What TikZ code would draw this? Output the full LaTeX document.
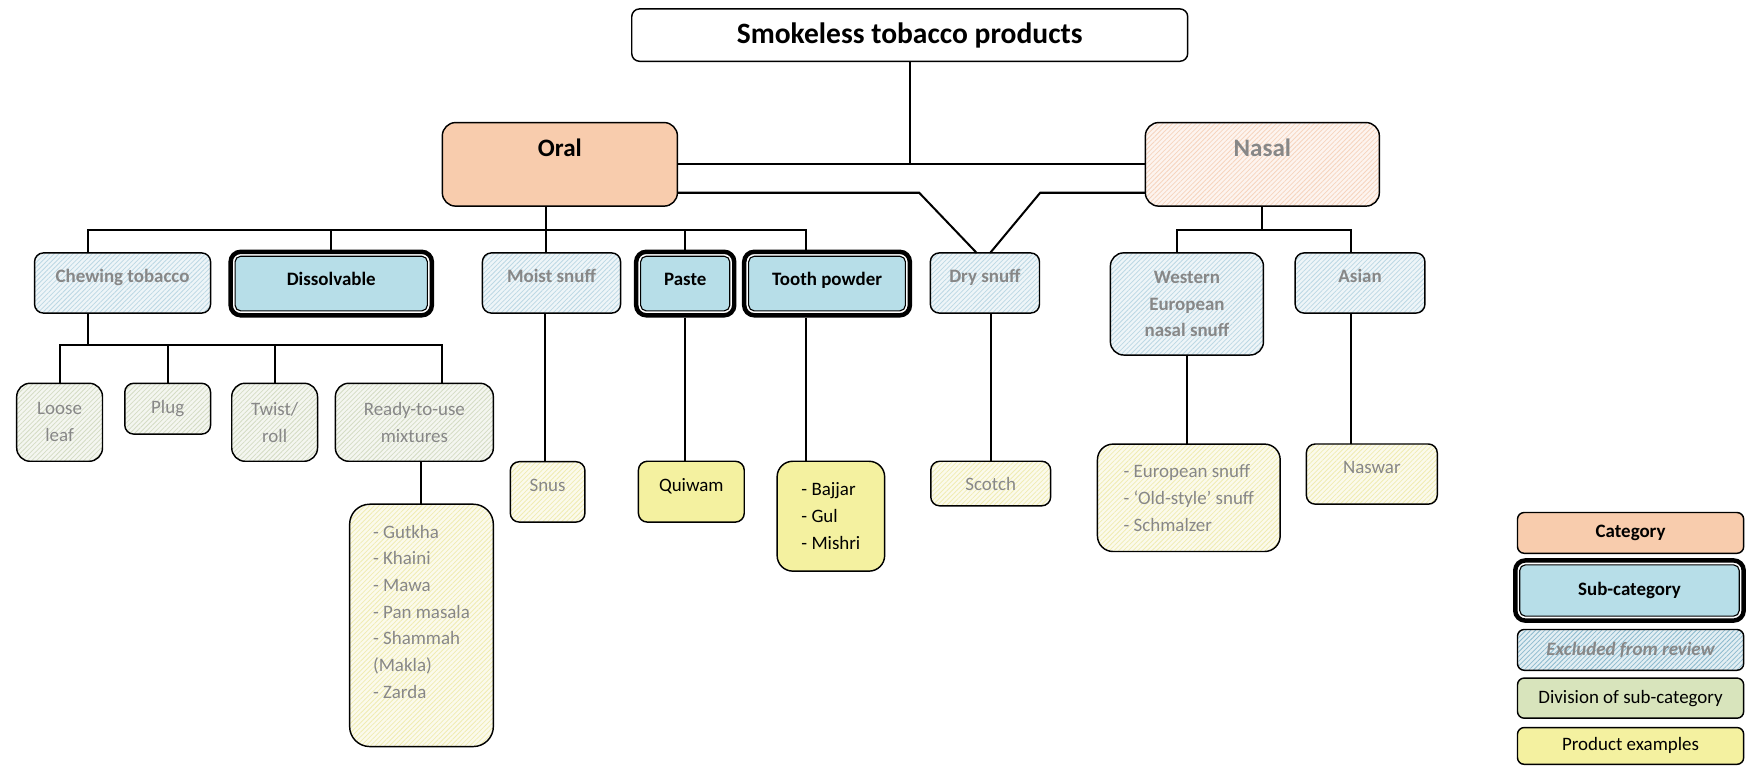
\documentclass[tikz,border=0pt]{standalone}
\usepackage{fontspec}
\setmainfont{Carlito}
\usetikzlibrary{patterns.meta}
\definecolor{catfill}{RGB}{248,204,173}
\definecolor{subfill}{RGB}{183,222,232}
\definecolor{divfill}{RGB}{216,228,188}
\definecolor{prodfill}{RGB}{244,241,160}
\definecolor{exgray}{RGB}{135,135,135}
\definecolor{hatchblue}{RGB}{188,216,228}
\definecolor{hatchlegend}{RGB}{140,186,206}
\definecolor{hatchpeach}{RGB}{246,212,190}
\definecolor{hatchgreen}{RGB}{212,220,196}
\definecolor{hatchyellow}{RGB}{240,236,178}
\tikzset{
  box/.style={draw=black, line width=1.3pt, rounded corners=8pt, align=center, inner sep=3pt,
    font=\fontsize{17}{24}\selectfont},
  bbox/.style={box, font=\fontsize{17}{24}\selectfont\bfseries},
  catbox/.style={box, fill=catfill, rounded corners=12pt, font=\fontsize{22.5}{27}\selectfont\bfseries},
  subbox/.style={bbox, fill=subfill, line width=1pt, rounded corners=5pt, outer sep=6pt},
  subframe/.style={line width=4pt, rounded corners=9pt},
  hatched/.style={text=exgray, preaction={fill=#1!25}, pattern={Lines[angle=45,distance=3pt,line width=0.7pt]}, pattern color=#1},
  exbox/.style={bbox, hatched=#1},
  divbox/.style={box, hatched=hatchgreen},
  exprod/.style={box, hatched=hatchyellow},
  prod/.style={box, fill=prodfill},
  lifted/.style={text height=12pt, text depth=#1},
  link/.style={line width=1.8pt}
}
\begin{document}
\begin{tikzpicture}[x=1pt, y=-1pt, outer sep=0pt]
\useasboundingbox (0,0) rectangle (1568,688);
\node[box, minimum width=499pt, minimum height=47pt, rounded corners=7pt, font=\fontsize{26.5}{30}\selectfont\bfseries] (title) at (816.5,31.5) {Smokeless tobacco products};
\node[catbox, minimum width=211pt, minimum height=75pt, text depth=29pt] (oral) at (502.5,147.5) {Oral};
\node[exbox=hatchpeach, rounded corners=12pt, font=\fontsize{22.5}{27}\selectfont\bfseries, minimum width=210pt, minimum height=75pt, text depth=29pt] (nasal) at (1133,147.5) {Nasal};

\node[exbox=hatchblue, minimum width=158pt, minimum height=54pt, lifted=13pt] (chew) at (110,254) {Chewing tobacco};
\node[subbox, minimum width=172.6pt, minimum height=49pt, lifted=9pt] (dissolve) at (297.3,254.5) {Dissolvable};
\node[exbox=hatchblue, minimum width=124pt, minimum height=54pt, lifted=13pt] (moist) at (495,254) {Moist snuff};
\node[subbox, minimum width=80pt, minimum height=49pt, lifted=9pt] (paste) at (615,254.5) {Paste};
\node[subbox, minimum width=140.7pt, minimum height=49pt, lifted=9pt] (tooth) at (742.3,254.5) {Tooth powder};
\node[exbox=hatchblue, minimum width=98pt, minimum height=54pt, lifted=13pt] (dry) at (884,254) {Dry snuff};
\node[exbox=hatchblue, minimum width=137.4pt, minimum height=91.7pt, rounded corners=12pt] (west) at (1065.3,272.8) {Western\\European\\nasal snuff};
\node[exbox=hatchblue, minimum width=116.5pt, minimum height=54pt, lifted=13pt] (asian) at (1220.7,254) {Asian};

\node[divbox, minimum width=77pt, minimum height=70pt, rounded corners=12pt] (loose) at (53.5,379) {Loose\\leaf};
\node[divbox, minimum width=77pt, minimum height=45.6pt] (plug) at (150.5,366.8) {Plug};
\node[divbox, minimum width=77pt, minimum height=70pt, rounded corners=12pt] (twist) at (246.5,379) {Twist/\\roll};
\node[divbox, minimum width=141.8pt, minimum height=70pt, rounded corners=12pt] (ready) at (371.9,379) {Ready-to-use\\mixtures};

\node[exprod, align=left, minimum width=129pt, minimum height=217.5pt, rounded corners=18pt, text depth=24.6pt] (mix) at (378.3,561.3) {- Gutkha\\- Khaini\\- Mawa\\- Pan masala\\- Shammah\\(Makla)\\- Zarda};
\node[exprod, minimum width=67pt, minimum height=54.2pt, lifted=13pt] (snus) at (491.5,441.5) {Snus};
\node[prod, minimum width=95pt, minimum height=54.6pt, lifted=13pt] (quiwam) at (620.5,441.3) {Quiwam};
\node[prod, align=left, minimum width=96.5pt, minimum height=98.6pt, rounded corners=14pt] (bajjar) at (745.75,463.3) {- Bajjar\\- Gul\\- Mishri};
\node[exprod, minimum width=107.6pt, minimum height=40pt] (scotch) at (889.2,434) {Scotch};
\node[exprod, align=left, minimum width=164pt, minimum height=96.4pt, rounded corners=14pt] (euro) at (1067,446.8) {- European snuff\\- ‘Old-style’ snuff\\- Schmalzer};
\node[exprod, minimum width=117.5pt, minimum height=54pt, lifted=13pt] (naswar) at (1231.25,425.5) {Naswar};

\node[bbox, fill=catfill, rounded corners=6pt, minimum width=203pt, minimum height=36.6pt] (legcat) at (1463.5,478.3) {Category};
\node[subbox, minimum width=197pt, minimum height=46pt] (legsub) at (1462.5,530) {Sub-category};
\node[exbox=hatchlegend, rounded corners=6pt, font=\fontsize{17}{24}\selectfont\bfseries\itshape, minimum width=203pt, minimum height=36.6pt] (legex) at (1463.5,583.3) {Excluded from review};
\node[box, fill=divfill, rounded corners=6pt, minimum width=203pt, minimum height=36pt] (legdiv) at (1463.5,626.6) {Division of sub-category};
\node[box, fill=prodfill, rounded corners=6pt, minimum width=203pt, minimum height=33pt] (legprod) at (1463.5,669.5) {Product examples};

\foreach \n in {dissolve,paste,tooth,legsub}
  \draw[subframe] ([shift={(2pt,-2pt)}]\n.north west) rectangle ([shift={(-2pt,2pt)}]\n.south east);

\coordinate (subbus) at (0,206);
\coordinate (chewbus) at (0,309.7);
\coordinate (vleft) at (825,173);
\coordinate (vright) at (933.6,173);
\draw[link] (title.south) -- (title.south |- oral.east);
\draw[link] (oral.east) -- (nasal.west);
\draw[link] ([yshift=-25.5pt]oral.east) -- (vleft) -- ([xshift=-7.4pt]dry.north);
\draw[link] ([yshift=-25.5pt]nasal.west) -- (vright) -- ([xshift=4.7pt]dry.north);
\draw[link] ([xshift=-5pt]moist.north) -- ([xshift=-5pt]moist.north |- oral.south);
\draw[link] ([xshift=-31pt]chew.north) |- ([xshift=-19.3pt]tooth.north |- subbus) -- ([xshift=-19.3pt]tooth.north);
\draw[link] (dissolve.north) -- (dissolve.north |- subbus);
\draw[link] (paste.north) -- (paste.north |- subbus);
\draw[link] (nasal.south) -- (nasal.south |- subbus);
\draw[link] ([xshift=-9.3pt]west.north) |- ([xshift=-7.7pt]asian.north |- subbus) -- ([xshift=-7.7pt]asian.north);
\draw[link] ([xshift=-31pt]chew.south) -- ([xshift=-31pt]chew.south |- chewbus);
\draw[link] (loose.north) |- ([xshift=24.8pt]ready.north |- chewbus) -- ([xshift=24.8pt]ready.north);
\draw[link] (plug.north) -- (plug.north |- chewbus);
\draw[link] (twist.north) -- (twist.north |- chewbus);
\draw[link] (mix.north) -- (mix.north |- ready.south);
\draw[link] ([xshift=-6pt]moist.south) -- ([xshift=-6pt]moist.south |- snus.north);
\draw[link] (paste.south) -- (paste.south |- quiwam.north);
\draw[link] ([xshift=-19.3pt]tooth.south) -- ([xshift=-19.3pt]tooth.south |- bajjar.north);
\draw[link] (scotch.north) -- (scotch.north |- dry.south);
\draw[link] (west.south) -- (west.south |- euro.north);
\draw[link] ([xshift=-7.7pt]asian.south) -- ([xshift=-7.7pt]asian.south |- naswar.north);
\end{tikzpicture}
\end{document}
